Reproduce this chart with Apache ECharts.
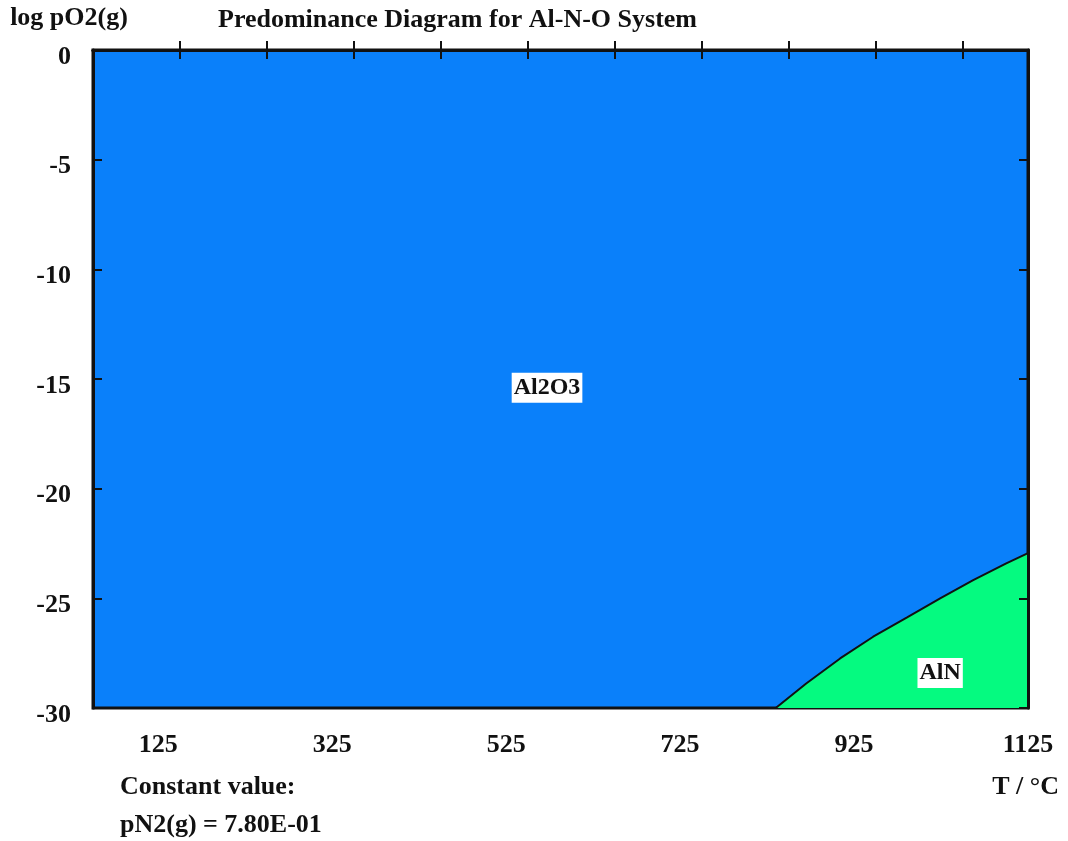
<!DOCTYPE html>
<html>
<head>
<meta charset="utf-8">
<title>Predominance Diagram for Al-N-O System</title>
<script src="https://cdn.jsdelivr.net/npm/echarts@6/dist/echarts.min.js"></script>
<style>
  html, body { margin: 0; padding: 0; background: #ffffff; }
  #chart { width: 1068px; height: 841px; }
</style>
</head>
<body>
<div id="chart"></div>
<script>
// Temperature axis (°C): labelled values and tick marks
const tempLabels = [125, 325, 525, 725, 925, 1125];
const tempTicks = [150, 250, 350, 450, 550, 650, 750, 850, 950, 1050];

// log pO2(g) axis range
const logpMin = -30;
const logpMax = 0;
const logpStep = 5;

// Al2O3 / AlN phase boundary: temperature (°C) and log pO2(g)
const boundaryT = [835, 870, 909, 947, 986, 1024, 1062, 1100, 1125];
const boundaryLogP = [-30, -28.88, -27.74, -26.75, -25.87, -25.0, -24.17, -23.41, -22.94];

// Stability field labels
const fieldNames = ['Al2O3', 'AlN'];
const fieldT = [572, 1024];
const fieldLogP = [-15.4, -28.4];

const serif = '"Liberation Serif", "DejaVu Serif", serif';
const ink = '#111111';
const blue = '#0A80FA';
const green = '#05FA80';
const fs = 26;

const boundary = boundaryT.map((t, i) => [t, boundaryLogP[i]]);
const fields = fieldNames.map((n, i) => ({ name: n, value: [fieldT[i], fieldLogP[i]] }));

const chart = echarts.init(document.getElementById('chart'));

const tickStyle = { show: true, inside: true, length: 9, lineStyle: { color: ink, width: 2 } };
const frameLine = { show: true, lineStyle: { color: ink, width: 3 } };
const textBold = { fontFamily: serif, fontWeight: 'bold', fontSize: fs, color: ink };

chart.setOption({
  animation: false,
  backgroundColor: '#ffffff',
  title: [
    {
      text: 'Predominance Diagram for Al-N-O System',
      left: 213, top: 2,
      textStyle: textBold
    },
    {
      text: 'Constant value:\npN2(g) = 7.80E-01',
      left: 115, top: 763,
      textStyle: Object.assign({ lineHeight: 38 }, textBold)
    },
    {
      text: 'T / °C',
      right: 4, top: 769,
      textStyle: textBold
    }
  ],
  grid: {
    left: 93, right: 40, top: 50, bottom: 133,
    show: true, backgroundColor: blue, borderColor: ink, borderWidth: 3
  },
  xAxis: [
    {
      type: 'value', position: 'bottom', min: 50, max: 1125, z: 5,
      axisLine: frameLine,
      axisTick: Object.assign({ customValues: tempTicks }, tickStyle),
      axisLabel: Object.assign({ customValues: tempLabels, margin: 24, formatter: v => String(v) }, textBold),
      splitLine: { show: false }
    },
    {
      type: 'value', position: 'top', min: 50, max: 1125, z: 5,
      axisLine: frameLine,
      axisTick: Object.assign({ customValues: tempTicks }, tickStyle),
      axisLabel: { show: false },
      splitLine: { show: false }
    }
  ],
  yAxis: [
    {
      type: 'value', position: 'left', min: logpMin, max: logpMax, interval: logpStep, z: 5,
      name: 'log pO2(g)', nameLocation: 'end', nameGap: 19,
      nameTextStyle: Object.assign({ align: 'center', padding: [0, 48, 0, 0] }, textBold),
      axisLine: frameLine,
      axisTick: tickStyle,
      axisLabel: Object.assign({ margin: 22, verticalAlign: 'top', lineHeight: 14 }, textBold),
      splitLine: { show: false }
    },
    {
      type: 'value', position: 'right', min: logpMin, max: logpMax, interval: logpStep, z: 5,
      axisLine: frameLine,
      axisTick: tickStyle,
      axisLabel: { show: false },
      splitLine: { show: false }
    }
  ],
  series: [
    {
      name: 'AlN field',
      type: 'line',
      data: boundary,
      xAxisIndex: 0, yAxisIndex: 0,
      symbol: 'none',
      smooth: false,
      lineStyle: { color: ink, width: 2 },
      areaStyle: { color: green, opacity: 1, origin: 'start' },
      z: 2
    },
    {
      name: 'fields',
      type: 'scatter',
      data: fields,
      xAxisIndex: 0, yAxisIndex: 0,
      symbolSize: 0,
      itemStyle: { opacity: 1 },
      label: {
        show: true, position: 'inside', formatter: '{b}',
        fontFamily: serif, fontWeight: 'bold', fontSize: 24, color: ink,
        backgroundColor: '#ffffff', padding: [4, 2, 2, 2]
      },
      z: 4
    }
  ]
});
</script>
</body>
</html>
